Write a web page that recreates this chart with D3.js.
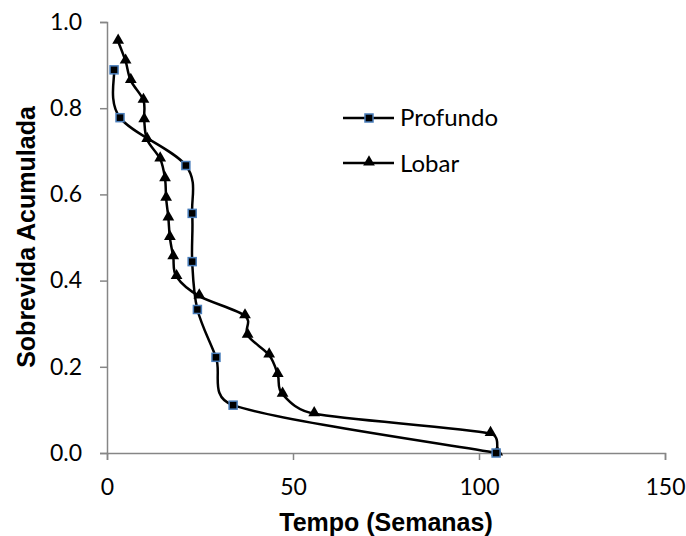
<!DOCTYPE html>
<meta charset="utf-8">
<style>
body { margin: 0; background: #fff; }
svg { display: block; }
.tick text { font-family: Lato, "Open Sans", sans-serif; font-size: 23px; fill: #000; }
.axis path, .axis line { stroke: #868686; stroke-width: 1.5; }
.title { font-family: "Liberation Sans", Arial, sans-serif; font-weight: bold; font-size: 25px; }
.legend text { font-family: Lato, "Open Sans", sans-serif; font-size: 24px; }
</style>
<svg width="686" height="536"></svg>
<script src="https://cdnjs.cloudflare.com/ajax/libs/d3/7.8.5/d3.min.js"></script>
<script>

// Profundo (squares)
var profundoX = [1.9, 3.5, 21.2, 22.9, 22.9, 24.3, 29.3, 33.9, 104.6];
var profundoY = [0.889, 0.778, 0.667, 0.556, 0.444, 0.333, 0.222, 0.111, 0.0];

// Lobar (triangles)
var lobarX = [3.0, 5.0, 6.4, 9.8, 10.0, 10.8, 14.3, 15.6, 15.9, 16.5, 16.9, 17.8,
              18.7, 24.8, 37.1, 37.8, 43.6, 45.9, 47.2, 55.7, 103.1, 104.9];
var lobarY = [0.955, 0.909, 0.864, 0.818, 0.773, 0.727, 0.682, 0.636, 0.591, 0.545, 0.5, 0.455,
              0.409, 0.364, 0.318, 0.273, 0.227, 0.182, 0.136, 0.091, 0.045, 0.0];

var xTicks = [0, 50, 100, 150];
var yTicks = [0, 0.2, 0.4, 0.6, 0.8, 1.0];

var svg = d3.select("svg");
var mLeft = 107, mRight = 665, mTop = 22, mBottom = 453;

var x = d3.scaleLinear().domain([0, 150]).range([mLeft, mRight]);
var y = d3.scaleLinear().domain([0, 1]).range([mBottom, mTop]);

// spreadsheet-like smoothing: catmull-rom tangents, arms clamped to the segment
function SmoothCurve(context) { this._context = context; }
SmoothCurve.prototype = {
  areaStart: function() {},
  areaEnd: function() {},
  lineStart: function() { this._p = []; },
  point: function(px, py) { this._p.push([+px, +py]); },
  lineEnd: function() {
    var p = this._p, n = p.length, c = this._context;
    if (!n) return;
    c.moveTo(p[0][0], p[0][1]);
    function clamp(t, max) {
      var l = Math.sqrt(t[0] * t[0] + t[1] * t[1]);
      if (l > max && l > 0) return [t[0] * max / l, t[1] * max / l];
      return t;
    }
    for (var i = 0; i < n - 1; i++) {
      var p0 = p[i - 1] || p[i], p1 = p[i], p2 = p[i + 1], p3 = p[i + 2] || p[i + 1];
      var seg = Math.sqrt(Math.pow(p2[0] - p1[0], 2) + Math.pow(p2[1] - p1[1], 2));
      var t1 = clamp([(p2[0] - p0[0]) / 6, (p2[1] - p0[1]) / 6], seg * 0.5);
      var t2 = clamp([(p3[0] - p1[0]) / 6, (p3[1] - p1[1]) / 6], seg * 0.5);
      c.bezierCurveTo(p1[0] + t1[0], p1[1] + t1[1], p2[0] - t2[0], p2[1] - t2[1], p2[0], p2[1]);
    }
  }
};
function smoothCurve(context) { return new SmoothCurve(context); }

var line = d3.line()
    .x(function(d) { return x(d[0]); })
    .y(function(d) { return y(d[1]); })
    .curve(smoothCurve);

svg.append("g")
    .attr("class", "axis")
    .attr("transform", "translate(0," + mBottom + ")")
    .call(d3.axisBottom(x).tickValues(xTicks).tickSize(7).tickSizeOuter(7).tickPadding(19).tickFormat(d3.format("d")));

svg.append("g")
    .attr("class", "axis")
    .attr("transform", "translate(" + mLeft + ",0)")
    .call(d3.axisLeft(y).tickValues(yTicks).tickSize(7).tickSizeOuter(7).tickPadding(18).tickFormat(d3.format(".1f")));

var profundo = d3.zip(profundoX, profundoY);
var lobar = d3.zip(lobarX, lobarY);

svg.append("path").datum(profundo)
    .attr("d", line).attr("fill", "none").attr("stroke", "#000").attr("stroke-width", 2.5);
svg.append("path").datum(lobar)
    .attr("d", line).attr("fill", "none").attr("stroke", "#000").attr("stroke-width", 2.5);

var tri = d3.symbol().type(d3.symbolTriangle).size(60);

svg.append("g").selectAll("path")
    .data(lobar)
  .enter().append("path")
    .attr("d", tri)
    .attr("transform", function(d) { return "translate(" + x(d[0]) + "," + (y(d[1]) - 1) + ")"; })
    .attr("fill", "#000");

svg.append("g").selectAll("rect")
    .data(profundo)
  .enter().append("rect")
    .attr("x", function(d) { return x(d[0]) - 4; })
    .attr("y", function(d) { return y(d[1]) - 4; })
    .attr("width", 8).attr("height", 8)
    .attr("fill", "#000").attr("stroke", "#4a7ebb").attr("stroke-width", 1.5);

// legend
var leg = svg.append("g").attr("class", "legend");
leg.append("line").attr("x1", 343).attr("x2", 394).attr("y1", 118).attr("y2", 118)
    .attr("stroke", "#000").attr("stroke-width", 2.5);
leg.append("rect").attr("x", 365).attr("y", 114).attr("width", 8).attr("height", 8)
    .attr("fill", "#000").attr("stroke", "#4a7ebb").attr("stroke-width", 1.5);
leg.append("text").attr("x", 400).attr("y", 126).text("Profundo");
leg.append("line").attr("x1", 343).attr("x2", 394).attr("y1", 163).attr("y2", 163)
    .attr("stroke", "#000").attr("stroke-width", 2.5);
leg.append("path").attr("d", tri).attr("transform", "translate(369,162)").attr("fill", "#000");
leg.append("text").attr("x", 400).attr("y", 172).text("Lobar");

svg.append("text").attr("class", "title")
    .attr("x", 386).attr("y", 531).attr("text-anchor", "middle")
    .text("Tempo (Semanas)");

svg.append("text").attr("class", "title")
    .attr("transform", "translate(35,237) rotate(-90)").attr("text-anchor", "middle")
    .text("Sobrevida Acumulada");

</script>
